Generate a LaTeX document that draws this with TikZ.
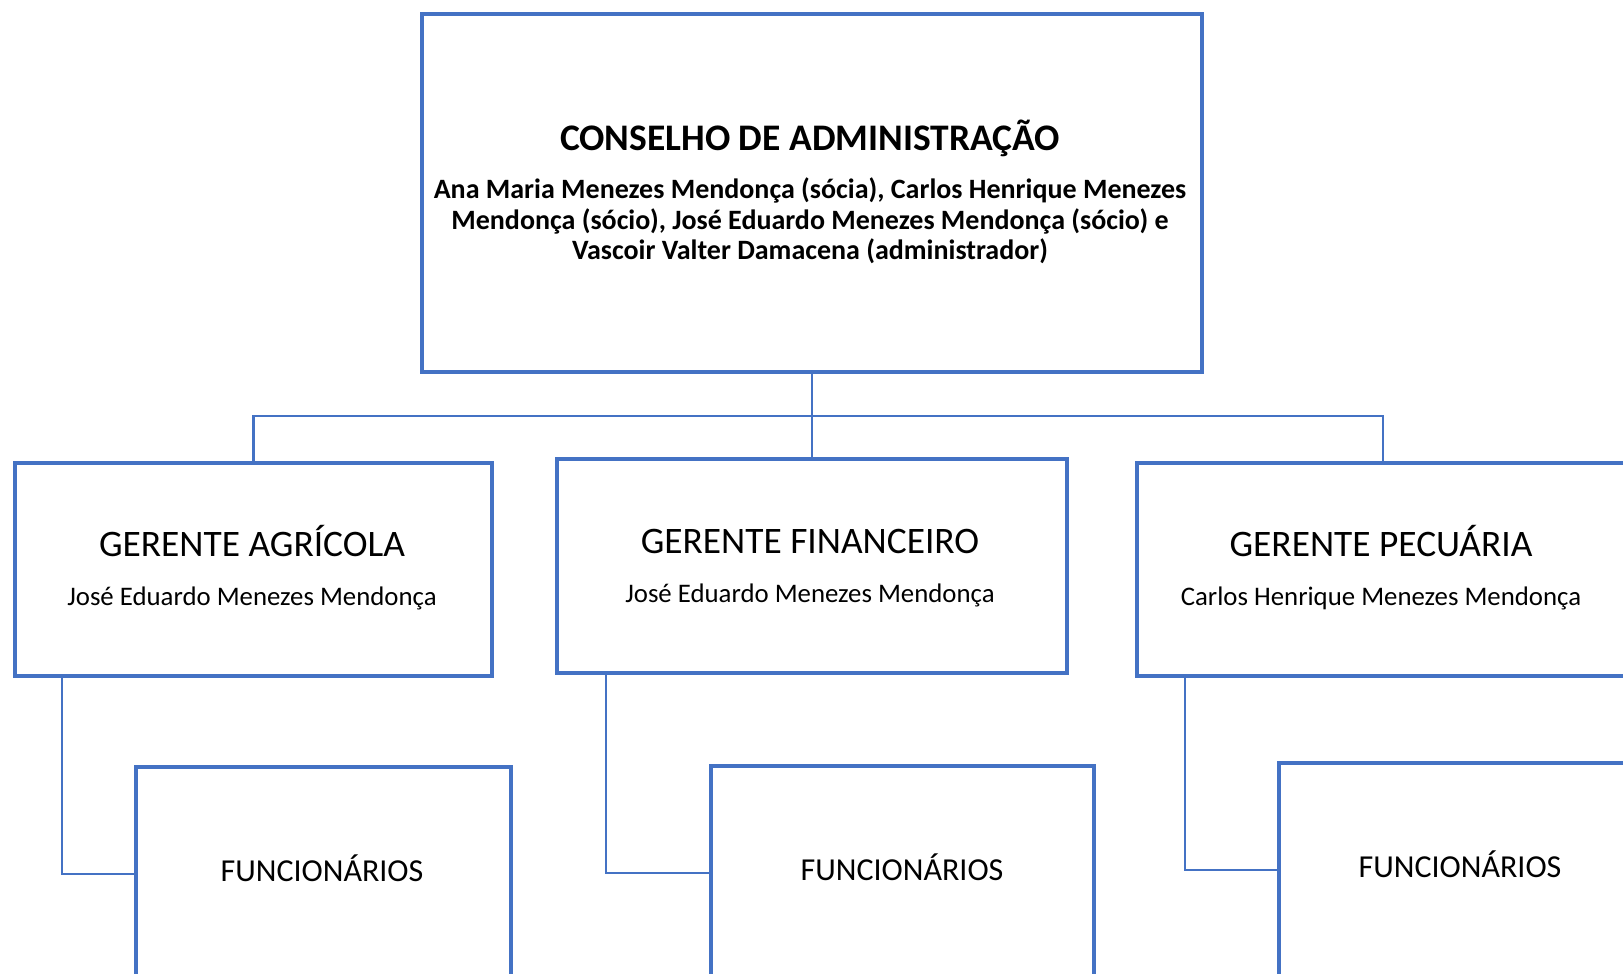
\documentclass[tikz,border=0pt]{standalone}
\usepackage{fontspec}
\setmainfont{Carlito}
\definecolor{obl}{HTML}{4472C4}
\begin{document}
\begin{tikzpicture}[x=1pt,y=-1pt,
  boxe/.style={draw=obl,line width=4pt,fill=white,inner sep=0pt,anchor=north west},
  wire/.style={draw=obl,line width=2.7pt},
  ttl/.style={font=\fontsize{37.5}{44}\selectfont\bfseries,anchor=base,inner sep=0pt},
  bdy/.style={font=\fontsize{28}{30.5}\selectfont\bfseries,align=center,anchor=center,inner sep=0pt},
  gtl/.style={font=\fontsize{37.4}{44}\selectfont,anchor=base,inner sep=0pt},
  gnm/.style={font=\fontsize{26.8}{32}\selectfont,anchor=base,inner sep=0pt},
  fnc/.style={font=\fontsize{32}{38}\selectfont,anchor=base,inner sep=0pt}]
\useasboundingbox (0,0) rectangle (1623,974);
\clip (0,0) rectangle (1623,974);
% boxes
\node[boxe,minimum width=780pt,minimum height=358pt] (cons) at (420,12) {};
\node[boxe,minimum width=477pt,minimum height=213pt] (ga) at (13,461) {};
\node[boxe,minimum width=510pt,minimum height=214pt] (gf) at (555,457) {};
\node[boxe,minimum width=492pt,minimum height=213pt] (gp) at (1135,461) {};
\node[boxe,minimum width=375pt,minimum height=214pt] (fa) at (134,765) {};
\node[boxe,minimum width=383pt,minimum height=214pt] (ff) at (709,764) {};
\node[boxe,minimum width=380pt,minimum height=214pt] (fp) at (1277,761) {};
% connectors
\coordinate (bus) at (811,416);
\draw[wire] (cons.south) -- (gf.north);
\draw[wire] (ga.north) |- (bus) -| (gp.north);
\draw[wire] ([xshift=49pt]ga.south west) |- (fa.west);
\draw[wire] ([xshift=51pt]gf.south west) |- (ff.west);
\draw[wire] ([xshift=50pt]gp.south west) |- (fp.west);
% texts
\node[ttl] (t-cons) at (810,150) {CONSELHO DE ADMINISTRAÇÃO};
\node[bdy] (b-cons) at (810,221) {Ana Maria Menezes Mendonça (sócia), Carlos Henrique Menezes\\Mendonça (sócio), José Eduardo Menezes Mendonça (sócio) e\\Vascoir Valter Damacena (administrador)};
\node[gtl] (t-ga) at (252,556) {GERENTE AGRÍCOLA};
\node[gnm] (n-ga) at (252,605) {José Eduardo Menezes Mendonça};
\node[gtl] (t-gf) at (810,553) {GERENTE FINANCEIRO};
\node[gnm] (n-gf) at (810,602) {José Eduardo Menezes Mendonça};
\node[gtl] (t-gp) at (1381,556) {GERENTE PECUÁRIA};
\node[gnm] (n-gp) at (1381,605) {Carlos Henrique Menezes Mendonça};
\node[fnc] (t-fa) at (322,881) {FUNCIONÁRIOS};
\node[fnc] (t-ff) at (902,880) {FUNCIONÁRIOS};
\node[fnc] (t-fp) at (1460,877) {FUNCIONÁRIOS};
\end{tikzpicture}
\end{document}
